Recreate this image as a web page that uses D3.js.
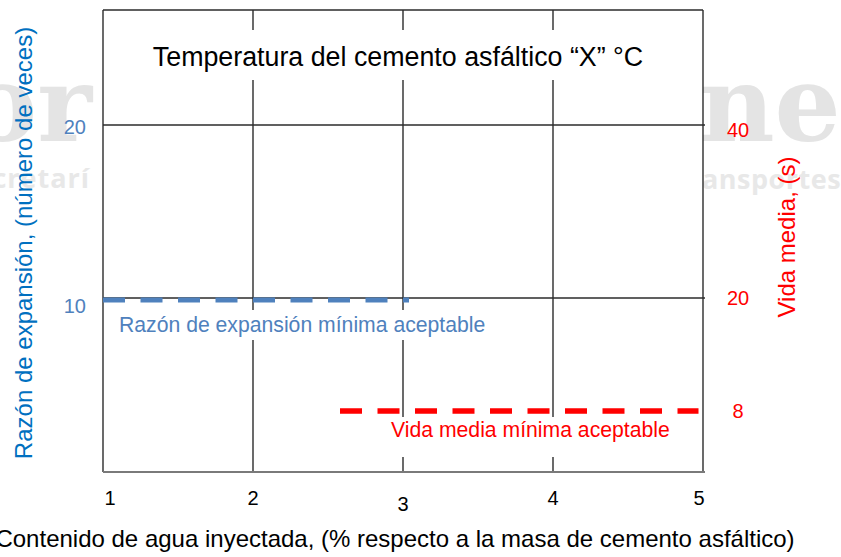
<!DOCTYPE html>
<html>
<head>
<meta charset="utf-8">
<script src="https://cdn.jsdelivr.net/npm/d3@7"></script>
<style>
  html, body { margin: 0; padding: 0; background: #fff; }
  svg { display: block; font-family: "Liberation Sans", Arial, sans-serif; }
</style>
</head>
<body>
<svg id="chart" width="841" height="557"></svg>
<script>
// ---- data ----
const xTicks = [1, 2, 3, 4, 5];
const leftTicks = [10, 20];
const rightTicks = [8, 20, 40];
const expansionX = [1, 3.04];
const expansionY = [10, 10];
const halfLifeX = [2.58, 4.97];
const halfLifeY = [8, 8];
const titleText = "Temperatura del cemento asfáltico \u201CX\u201D °C";
const xTitle = "Contenido de agua inyectada, (% respecto a la masa de cemento asfáltico)";
const yLeftTitle = "Razón de expansión, (número de veces)";
const yRightTitle = "Vida media, (s)";
const expansionLabel = "Razón de expansión mínima aceptable";
const halfLifeLabel = "Vida media mínima aceptable";

const BLUE = "#4F81BD", BLUE_TITLE = "#0070C0", RED = "#FF0000";
const svg = d3.select("#chart");
const L = 103, R = 703, T = 10, B = 472;

const x = d3.scaleLinear().domain([1, 5]).range([L, R]);
const yL = d3.scaleLinear().domain([0, 20]).range([471, 125]);
const yR = d3.scaleLinear().domain([8, 20, 40]).range([411, 298, 125]);

// ---- watermark ----
const wm = svg.append("g").attr("fill", "#e4e4e4");
wm.append("text").attr("x", 92).attr("y", 141).attr("text-anchor", "end")
  .attr("font-family", "DejaVu Serif").attr("font-weight", "bold").attr("font-size", 104).text("or");
wm.append("text").attr("x", 699).attr("y", 141)
  .attr("font-family", "DejaVu Serif").attr("font-weight", "bold").attr("font-size", 104).text("ne");
wm.append("text").attr("x", 90).attr("y", 188).attr("text-anchor", "end").attr("fill", "#e8e8e8")
  .attr("font-family", "Open Sans").attr("font-weight", "bold").attr("font-size", 27).attr("letter-spacing", 1).text("cretarí");
wm.append("text").attr("x", 702).attr("y", 189).attr("fill", "#e8e8e8")
  .attr("font-family", "Open Sans").attr("font-weight", "bold").attr("font-size", 27).attr("letter-spacing", 0.5).text("ansportes");

// ---- plot background ----
svg.append("rect").attr("x", L).attr("y", T).attr("width", R - L).attr("height", B - T).attr("fill", "#fff");

// ---- grid ----
const grid = svg.append("g").attr("stroke", "#2b2b2b").attr("stroke-width", 1.4);
grid.selectAll("line.v").data(xTicks).join("line")
  .attr("x1", d => x(d)).attr("x2", d => x(d)).attr("y1", T).attr("y2", B);
grid.selectAll("line.h").data(leftTicks).join("line")
  .attr("x1", L).attr("x2", R + 2).attr("y1", d => yL(d)).attr("y2", d => yL(d));
grid.append("line").attr("x1", L).attr("x2", R).attr("y1", T).attr("y2", T);
svg.append("line").attr("x1", L).attr("x2", R + 2).attr("y1", B).attr("y2", B)
  .attr("stroke", "#7a7a7a").attr("stroke-width", 2);

// ---- white boxes behind texts (interrupt grid) ----
svg.append("rect").attr("x", 140).attr("y", 30).attr("width", 520).attr("height", 50).attr("fill", "#fff");
svg.append("rect").attr("x", 112).attr("y", 310).attr("width", 384).attr("height", 30).attr("fill", "#fff");
svg.append("rect").attr("x", 383).attr("y", 417).attr("width", 298).attr("height", 40).attr("fill", "#fff");

// ---- title ----
svg.append("text").attr("x", 398).attr("y", 66).attr("text-anchor", "middle")
  .attr("font-size", 26.8).attr("fill", "#000").text(titleText);

// ---- threshold lines ----
const line = d3.line();
svg.append("path")
  .attr("d", line(expansionX.map((v, i) => [x(v), yL(expansionY[i]) + 2])))
  .attr("stroke", BLUE).attr("stroke-width", 5).attr("stroke-dasharray", "22 15.5").attr("fill", "none");
svg.append("path")
  .attr("d", line(halfLifeX.map((v, i) => [x(v), yR(halfLifeY[i])])))
  .attr("stroke", RED).attr("stroke-width", 5.5).attr("stroke-dasharray", "22 15.5").attr("fill", "none");

svg.append("text").attr("x", 119).attr("y", 332).attr("font-size", 21.2).attr("fill", BLUE).text(expansionLabel);
svg.append("text").attr("x", 391).attr("y", 437).attr("font-size", 21.2).attr("fill", RED).text(halfLifeLabel);

// ---- tick labels ----
svg.selectAll("text.xt").data(xTicks).join("text").attr("class", "xt")
  .attr("x", d => x(d) + (d === 1 ? 7 : (d === 5 ? -4 : 0)))
  .attr("y", d => d === 3 ? 511 : 505)
  .attr("text-anchor", "middle").attr("font-size", 20).attr("fill", "#000").text(d => d);

svg.selectAll("text.yl").data(leftTicks).join("text").attr("class", "yl")
  .attr("x", 86).attr("y", d => yL(d) + (d === 10 ? 15 : 9))
  .attr("text-anchor", "end").attr("font-size", 20).attr("fill", BLUE).text(d => d);

svg.selectAll("text.yr").data(rightTicks).join("text").attr("class", "yr")
  .attr("x", 738).attr("y", d => yR(d) + (d === 40 ? 12 : 7))
  .attr("text-anchor", "middle").attr("font-size", 20).attr("fill", RED).text(d => d);

// ---- axis titles ----
svg.append("text").attr("transform", "translate(32,243) rotate(-90)").attr("text-anchor", "middle")
  .attr("font-size", 24).attr("fill", BLUE_TITLE).text(yLeftTitle);
svg.append("text").attr("transform", "translate(795,237) rotate(-90)").attr("text-anchor", "middle")
  .attr("font-size", 24).attr("fill", RED).text(yRightTitle);
svg.append("text").attr("x", 395).attr("y", 547).attr("text-anchor", "middle")
  .attr("font-size", 24).attr("fill", "#000").text(xTitle);
</script>
</body>
</html>
